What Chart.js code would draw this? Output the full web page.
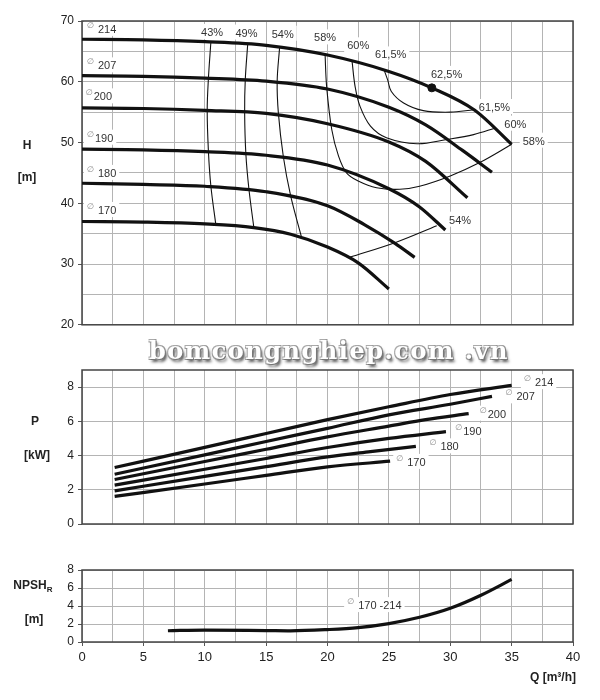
<!DOCTYPE html>
<html>
<head>
<meta charset="utf-8">
<script src="https://cdn.jsdelivr.net/npm/chart.js@4.4.1/dist/chart.umd.min.js"></script>
<style>
  body { margin: 0; background: #fff; }
  #wrap { position: relative; width: 600px; height: 700px; }
  canvas { position: absolute; left: 0; }
  #mark {
    position: absolute; left: 146px; top: 336px; width: 366px; text-align: center;
    font-family: 'DejaVu Serif', serif; font-weight: bold; font-size: 24px; letter-spacing: 1.5px;
    color: #fff;
    text-shadow: 1px 1px 0 #777, -1px -1px 0 #aaa, 1px -1px 0 #999, -1px 1px 0 #999, 2px 3px 3px #555;
  }
</style>
</head>
<body>
<div id="wrap">
  <canvas id="hChart" width="600" height="336" style="top:0"></canvas>
  <canvas id="pChart" width="600" height="200" style="top:340px"></canvas>
  <canvas id="nChart" width="600" height="160" style="top:540px"></canvas>
  <div id="mark">bomcongnghiep.com .vn</div>
</div>
<script>
// ==========================
// Dados: H (altura) x Q
// ==========================
const qH214 = [0, 5, 10, 15, 20, 25, 28.5, 32, 35];
const h214 = [67.0, 66.9, 66.6, 66.0, 64.4, 61.7, 59.0, 55.3, 49.7];
const qH207 = [0, 5, 10, 15, 20, 25, 28, 31, 33.4];
const h207 = [61.0, 60.9, 60.6, 60.1, 58.8, 55.8, 52.9, 48.7, 45.1];
const qH200 = [0, 5, 10, 15, 20, 25, 28, 31.4];
const h200 = [55.7, 55.6, 55.3, 54.8, 53.1, 50.1, 46.9, 40.9];
const qH190 = [0, 5, 10, 15, 20, 25, 27.5, 29.6];
const h190 = [48.9, 48.8, 48.5, 47.9, 46.3, 42.4, 39.4, 35.6];
const qH180 = [0, 5, 10, 15, 20, 23, 25.5, 27.1];
const h180 = [43.3, 43.1, 42.8, 41.9, 39.6, 36.5, 33.4, 31.1];
const qH170 = [0, 5, 10, 14, 17, 20, 22.5, 25];
const h170 = [37.0, 36.9, 36.6, 36.0, 34.9, 32.8, 30.2, 25.9];

// curvas de rendimento
const qE43 = [10.5, 10.3, 10.2, 10.3, 10.5, 10.9];
const hE43 = [66.55, 60.6, 55.3, 48.5, 42.8, 36.5];
const qE49 = [13.5, 13.3, 13.25, 13.35, 13.6, 14.0];
const hE49 = [66.2, 60.3, 55.0, 48.1, 42.3, 36.0];
const qE54 = [16.1, 15.9, 16.0, 16.4, 17.0, 17.9];
const hE54 = [65.7, 60.1, 54.8, 47.7, 41.2, 34.3];
const qE58 = [19.8, 19.93, 20.35, 20.9, 21.55, 22.5, 24.0, 25.9, 27.5, 30.0, 32.4, 35.0];
const hE58 = [64.6, 59.2, 52.1, 47.75, 45.0, 43.65, 42.55, 42.3, 42.8, 44.5, 46.7, 49.7];
const qE60 = [22.0, 22.25, 22.65, 23.5, 24.8, 27.3, 29.7, 31.9, 33.7];
const hE60 = [63.4, 59.2, 55.95, 52.7, 50.8, 49.8, 50.5, 51.3, 52.4];
const qE615 = [24.6, 24.9, 25.2, 26.2, 27.8, 30.0, 31.9];
const hE615 = [62.0, 60.3, 58.4, 56.5, 55.25, 55.0, 55.4];
const qE54b = [21.8, 25.6, 28.9];
const hE54b = [31.1, 33.6, 36.3];
const qBest = [28.5];
const hBest = [59.0];

const effText = ['43%', '49%', '54%', '58%', '60%', '61,5%', '62,5%', '61,5%', '60%', '58%', '54%'];
const effQ = [10.6, 13.4, 16.35, 19.8, 22.5, 25.15, 29.7, 33.6, 35.3, 36.8, 30.8];
const effH = [68.2, 68.1, 67.9, 67.3, 66.0, 64.5, 61.3, 55.85, 53.1, 50.3, 37.3];

const diaText = ['214', '207', '200', '190', '180', '170'];
const diaGap = [true, true, false, false, true, true];
const diaQ = [0.4, 0.4, 0.3, 0.4, 0.4, 0.4];
const diaH = [68.7, 62.7, 57.6, 50.8, 45.0, 38.9];

// ==========================
// Dados: P x Q
// ==========================
const qP214 = [2.66, 10, 15, 20, 25, 30, 35];
const p214 = [3.30, 4.48, 5.29, 6.10, 6.85, 7.57, 8.10];
const qP207 = [2.66, 10, 15, 20, 25, 30, 33.4];
const p207 = [2.91, 4.04, 4.82, 5.59, 6.38, 7.0, 7.46];
const qP200 = [2.66, 10, 15, 20, 25, 28, 31.5];
const p200 = [2.60, 3.65, 4.37, 5.09, 5.72, 6.1, 6.45];
const qP190 = [2.66, 10, 15, 20, 25, 29.65];
const p190 = [2.27, 3.2, 3.83, 4.47, 5.0, 5.40];
const qP180 = [2.66, 10, 15, 20, 23.5, 27.2];
const p180 = [1.94, 2.78, 3.35, 3.92, 4.23, 4.54];
const qP170 = [2.66, 10, 15, 20, 25.1];
const p170 = [1.61, 2.34, 2.84, 3.34, 3.67];

const pLabelQ = [36.0, 34.5, 32.4, 30.4, 28.3, 25.6];
const pLabelP = [8.29, 7.46, 6.45, 5.44, 4.54, 3.63];

// ==========================
// Dados: NPSHr x Q
// ==========================
const qN = [7, 10, 15, 17, 20, 22.5, 25, 27.5, 30, 32.5, 35];
const npsh = [1.25, 1.33, 1.27, 1.24, 1.38, 1.6, 2.05, 2.75, 3.75, 5.2, 6.95];

const qTicks = [0, 5, 10, 15, 20, 25, 30, 35, 40];

const gridColor = '#b4b4b4';
const ink = '#111';
Chart.defaults.font.family = "'Liberation Sans', Arial, sans-serif";
Chart.defaults.color = '#333';

const pts = (qs, vs) => qs.map((q, i) => ({ x: q, y: vs[i] }));
const curve = (qs, vs) => ({ data: pts(qs, vs), borderColor: ink, borderWidth: 3.2, pointRadius: 0, cubicInterpolationMode: 'monotone', fill: false });
const effLine = (qs, vs) => ({ data: pts(qs, vs), borderColor: ink, borderWidth: 1.1, pointRadius: 0, tension: 0.35, fill: false });

// posição de cada rótulo (fundo branco por baixo das curvas, texto por cima)
function labelBoxes(chart, labels) {
  const ctx = chart.ctx, xs = chart.scales.x, ys = chart.scales.y;
  ctx.font = "11px 'Liberation Sans', Arial";
  return labels.map(l => {
    const px = xs.getPixelForValue(l.q), py = ys.getPixelForValue(l.v);
    const tw = ctx.measureText(l.text).width;
    const sym = l.dia ? 8 + (l.gap ? 3 : 0) : 0;
    const w = tw + sym;
    const x0 = l.align === 'left' ? px : px - w / 2;
    return { l, x0, py, w, sym };
  });
}

const notesPlugin = {
  id: 'notes',
  beforeDatasetsDraw(chart, args, opts) {
    const a = chart.chartArea, ctx = chart.ctx;
    ctx.save();
    ctx.fillStyle = '#fff';
    labelBoxes(chart, opts.labels || []).forEach(b => ctx.fillRect(b.x0 - 3, b.py - 8, b.w + 6, 15));
    ctx.strokeStyle = '#444';
    ctx.lineWidth = 1.5;
    ctx.strokeRect(a.left, a.top, a.right - a.left, a.bottom - a.top);
    ctx.restore();
  },
  afterDatasetsDraw(chart, args, opts) {
    const ctx = chart.ctx;
    ctx.save();
    ctx.textBaseline = 'middle';
    ctx.textAlign = 'left';
    labelBoxes(chart, opts.labels || []).forEach(b => {
      if (b.l.dia) {
        ctx.fillStyle = '#888';
        ctx.font = "8px 'DejaVu Sans'";
        ctx.fillText('\u2205', b.x0, b.py - 3);
      }
      ctx.fillStyle = '#333';
      ctx.font = "11px 'Liberation Sans', Arial";
      ctx.fillText(b.l.text, b.x0 + b.sym, b.py + 1);
    });
    ctx.restore();
  },
  afterDraw(chart, args, opts) {
    const ctx = chart.ctx;
    ctx.save();
    ctx.textBaseline = 'middle';
    ctx.fillStyle = '#222';
    (opts.titles || []).forEach(t => {
      ctx.font = "bold 12px 'Liberation Sans', Arial";
      ctx.textAlign = t.align || 'center';
      ctx.fillText(t.text, t.x, t.y);
      if (t.sub) {
        const w = ctx.measureText(t.text).width;
        ctx.font = "bold 8px 'Liberation Sans', Arial";
        ctx.textAlign = 'left';
        ctx.fillText(t.sub, t.x + w / 2, t.y + 4);
      }
    });
    ctx.restore();
  }
};

const xScale = (showLabels, height) => ({
  type: 'linear', min: 0, max: 40,
  ticks: {
    display: showLabels, stepSize: 2.5, padding: 4, font: { size: 13 }, color: '#222', maxRotation: 0,
    callback: v => qTicks.includes(v) ? v : ''
  },
  grid: {
    color: gridColor, drawTicks: showLabels, tickLength: 4,
    tickColor: c => (c.tick && qTicks.includes(c.tick.value)) ? '#555' : 'rgba(0,0,0,0)'
  },
  border: { display: false },
  afterFit: s => { s.height = height; }
});

const yScale = (min, max, step, every) => ({
  min: min, max: max,
  ticks: { stepSize: step, padding: 4, font: { size: 12 }, color: '#222', callback: v => v % every === 0 ? v : '' },
  grid: {
    color: gridColor, tickLength: 4,
    tickColor: c => (c.tick && c.tick.value % every === 0) ? '#555' : 'rgba(0,0,0,0)'
  },
  border: { display: false },
  afterFit: s => { s.width = 82; }
});

const baseOptions = (scales, notes, padTop) => ({
  responsive: false,
  animation: false,
  layout: { padding: { top: padTop, right: 27, left: 0, bottom: 0 } },
  scales: scales,
  plugins: { legend: { display: false }, tooltip: { enabled: false }, notes: notes }
});

// ==========================
// Gráfico H
// ==========================
const hLabels = effText.map((t, i) => ({ text: t, q: effQ[i], v: effH[i], align: 'center' }))
  .concat(diaText.map((t, i) => ({ text: t, q: diaQ[i], v: diaH[i], align: 'left', dia: true, gap: diaGap[i] })));

new Chart(document.getElementById('hChart'), {
  type: 'line',
  data: {
    datasets: [
      curve(qH214, h214), curve(qH207, h207), curve(qH200, h200),
      curve(qH190, h190), curve(qH180, h180), curve(qH170, h170),
      effLine(qE43, hE43), effLine(qE49, hE49), effLine(qE54, hE54),
      effLine(qE58, hE58), effLine(qE60, hE60), effLine(qE615, hE615), effLine(qE54b, hE54b),
      { data: pts(qBest, hBest), showLine: false, pointRadius: 4, pointBackgroundColor: ink, pointBorderColor: ink }
    ]
  },
  options: baseOptions(
    { x: xScale(false, 10), y: yScale(20, 70, 5, 10) },
    { labels: hLabels, titles: [{ text: 'H', x: 27, y: 146 }, { text: '[m]', x: 27, y: 178 }] },
    21
  ),
  plugins: [notesPlugin]
});

// ==========================
// Gráfico P
// ==========================
const pLabels = diaText.map((t, i) => ({ text: t, q: pLabelQ[i], v: pLabelP[i], align: 'left', dia: true, gap: diaGap[i] }));

new Chart(document.getElementById('pChart'), {
  type: 'line',
  data: {
    datasets: [
      curve(qP214, p214), curve(qP207, p207), curve(qP200, p200),
      curve(qP190, p190), curve(qP180, p180), curve(qP170, p170)
    ]
  },
  options: baseOptions(
    { x: xScale(false, 16), y: yScale(0, 9, 1, 2) },
    { labels: pLabels, titles: [{ text: 'P', x: 35, y: 82 }, { text: '[kW]', x: 37, y: 116 }] },
    30
  ),
  plugins: [notesPlugin]
});

// ==========================
// Gráfico NPSHr
// ==========================
new Chart(document.getElementById('nChart'), {
  type: 'line',
  data: { datasets: [curve(qN, npsh)] },
  options: baseOptions(
    { x: xScale(true, 58), y: yScale(0, 8, 2, 2) },
    {
      labels: [{ text: '170 -214', q: 21.6, v: 4.1, align: 'left', dia: true, gap: true }],
      titles: [
        { text: 'NPSH', x: 30, y: 46, sub: 'R' },
        { text: '[m]', x: 34, y: 80 },
        { text: 'Q [m\u00B3/h]', x: 576, y: 138, align: 'right' }
      ]
    },
    30
  ),
  plugins: [notesPlugin]
});
</script>
</body>
</html>
